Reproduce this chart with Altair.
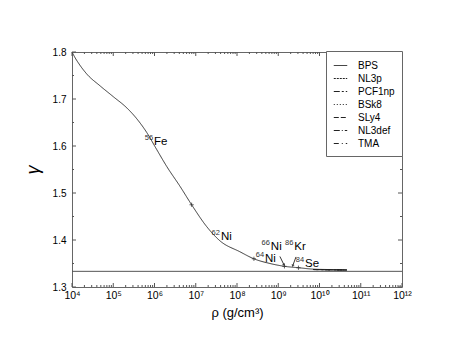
import altair as alt
import pandas as pd

W, H = 330, 235
FONT = "Liberation Sans"

# ---- data ----
log_rho_bps = [4.00, 4.08, 4.16, 4.36, 4.68, 5.00, 5.33, 5.57, 5.81, 6.05, 6.30, 6.62,
               6.90, 7.27, 7.59, 8.07, 8.41, 8.80, 9.15, 9.49, 9.85, 10.30, 10.66]
gamma_bps = [1.800, 1.787, 1.776, 1.753, 1.728, 1.705, 1.681, 1.658, 1.629, 1.593, 1.556, 1.514,
             1.475, 1.428, 1.398, 1.375, 1.360, 1.350, 1.344, 1.341, 1.338, 1.337, 1.336]

other_models = ["NL3p", "PCF1np", "BSk8", "SLy4", "NL3def", "TMA"]
log_rho_other = [9.85, 10.30, 10.66]
gamma_other = [1.3372, 1.3366, 1.3362]

models = ["BPS"] + other_models
dashes = [[1, 0], [2, 1], [6, 2, 2, 2], [1, 2], [5, 2], [6, 2, 1, 2], [5, 3, 1, 3]]

marker_log_rho = [6.90, 8.41, 9.15, 9.49]
marker_gamma = [1.475, 1.360, 1.344, 1.341]

label_mass = ["56", "62", "64", "66", "86", "84"]
label_elem = ["Fe", "Ni", "Ni", "Ni", "Kr", "Se"]
label_log_rho = [5.99, 7.61, 8.68, 8.82, 9.39, 9.65]
label_gamma = [1.602, 1.400, 1.3535, 1.3795, 1.3795, 1.3425]

arrow_from_log_rho = [9.04, 9.43]
arrow_from_gamma = [1.365, 1.364]
arrow_to_log_rho = [9.14, 9.35]
arrow_to_gamma = [1.347, 1.345]
arrow_angle = [335, 19]

gamma_limit = 4.0 / 3.0

x_major = [10.0 ** e for e in range(4, 13)]
x_minor = [k * 10.0 ** e for e in range(4, 12) for k in range(2, 10)]
y_major = [1.3, 1.4, 1.5, 1.6, 1.7, 1.8]
y_minor = [1.35, 1.45, 1.55, 1.65, 1.75]
sup = ["⁴", "⁵", "⁶", "⁷", "⁸", "⁹", "¹⁰", "¹¹", "¹²"]

# ---- tables ----
rows = [{"rho": 10 ** a, "gamma": g, "model": "BPS"} for a, g in zip(log_rho_bps, gamma_bps)]
for m in other_models:
    rows += [{"rho": 10 ** a, "gamma": g, "model": m} for a, g in zip(log_rho_other, gamma_other)]
df_lines = pd.DataFrame(rows)
df_mark = pd.DataFrame({"rho": [10 ** a for a in marker_log_rho], "gamma": marker_gamma})
df_lab = pd.DataFrame({"rho": [10 ** a for a in label_log_rho], "gamma": label_gamma,
                       "mass": label_mass, "elem": label_elem})
df_arr = pd.DataFrame({"rho": [10 ** a for a in arrow_from_log_rho], "gamma": arrow_from_gamma,
                       "rho2": [10 ** a for a in arrow_to_log_rho], "gamma2": arrow_to_gamma,
                       "angle": arrow_angle})

xscale = alt.Scale(type="log", domain=[1e4, 1e12], nice=False)
yscale = alt.Scale(domain=[1.3, 1.8], nice=False, zero=False)

sup_arr = "[" + ",".join("'" + s + "'" for s in sup) + "]"
x_axis = alt.Axis(values=x_major, labelExpr="'10' + " + sup_arr + "[round(log(datum.value)/LN10) - 4]",
                  ticks=False, domain=False, grid=False, labelFlush=False, labelOverlap=False,
                  labelFont=FONT, labelFontSize=10.5, labelColor="black", labelPadding=3,
                  title="ρ (g/cm³)", titleFont=FONT, titleFontSize=13, titleFontWeight="normal",
                  titleColor="black", titlePadding=6)
y_axis = alt.Axis(values=y_major, format=".1f", ticks=False, domain=False, grid=False,
                  labelFont=FONT, labelFontSize=10, labelColor="black", labelPadding=6,
                  title="γ", titleFont=FONT, titleFontSize=18, titleFontWeight="normal",
                  titleFontStyle="italic", titleColor="black", titlePadding=10)

X = alt.X("rho:Q", scale=xscale)
Y = alt.Y("gamma:Q", scale=yscale)

lines = alt.Chart(df_lines).mark_line(strokeWidth=0.9, interpolate="monotone", color="#222").encode(
    x=alt.X("rho:Q", scale=xscale, axis=x_axis),
    y=alt.Y("gamma:Q", scale=yscale, axis=y_axis),
    strokeDash=alt.StrokeDash("model:N", scale=alt.Scale(domain=models, range=dashes),
                              legend=alt.Legend(title=None, orient="none", legendX=254, legendY=-1,
                                                strokeColor="#666", padding=7, fillColor="white",
                                                symbolType="stroke", symbolSize=180,
                                                symbolStrokeColor="#222", symbolStrokeWidth=1,
                                                labelFont=FONT, labelFontSize=10, labelColor="black",
                                                labelOffset=10, rowPadding=-1)),
    detail="model:N",
)

limit = alt.Chart(pd.DataFrame({"gamma": [gamma_limit]})).mark_rule(color="#555", strokeWidth=1).encode(y=Y)

markers = alt.Chart(df_mark).mark_point(shape="M-1,0L1,0M0,-1L0,1", size=18, color="#222",
                                        strokeWidth=1, filled=False).encode(x=X, y=Y)

arrows = alt.Chart(df_arr).mark_rule(color="#222", strokeWidth=0.9).encode(
    x=X, x2="rho2:Q", y=Y, y2="gamma2:Q")
heads = alt.Chart(df_arr).mark_point(shape="triangle-down", filled=True, size=10, color="#222").encode(
    x=alt.X("rho2:Q", scale=xscale), y=alt.Y("gamma2:Q", scale=yscale),
    angle=alt.Angle("angle:Q", scale=None))

elem_txt = alt.Chart(df_lab).mark_text(align="left", baseline="alphabetic", font=FONT,
                                       fontSize=11.5, color="black").encode(x=X, y=Y, text="elem:N")
mass_txt = alt.Chart(df_lab).mark_text(align="right", baseline="alphabetic", font=FONT,
                                       fontSize=7.5, dx=-1, dy=-5, color="#333").encode(x=X, y=Y, text="mass:N")

def xticks(vals, y0, y1):
    return alt.Chart(pd.DataFrame({"rho": vals})).mark_rule(color="#555", strokeWidth=1).encode(
        x=X, y=alt.value(y0), y2=alt.value(y1))

def yticks(vals, x0, x1):
    return alt.Chart(pd.DataFrame({"gamma": vals})).mark_rule(color="#555", strokeWidth=1).encode(
        y=Y, x=alt.value(x0), x2=alt.value(x1))

ticks = [xticks(x_major, H, H - 4), xticks(x_minor, H, H - 2),
         xticks(x_major, 0, 4), xticks(x_minor, 0, 2),
         yticks(y_major, 0, 4), yticks(y_minor, 0, 2),
         yticks(y_major, W, W - 4), yticks(y_minor, W, W - 2)]

chart = alt.layer(lines, limit, markers, arrows, heads, elem_txt, mass_txt, *ticks).properties(
    width=W, height=H,
    padding={"left": 64, "top": 44, "right": 50, "bottom": 40},
    autosize=alt.AutoSizeParams(type="none"),
    background="white",
).configure_view(stroke="#666", strokeWidth=1)

chart.save("out.html", embed_options={"renderer": "svg", "actions": False})
